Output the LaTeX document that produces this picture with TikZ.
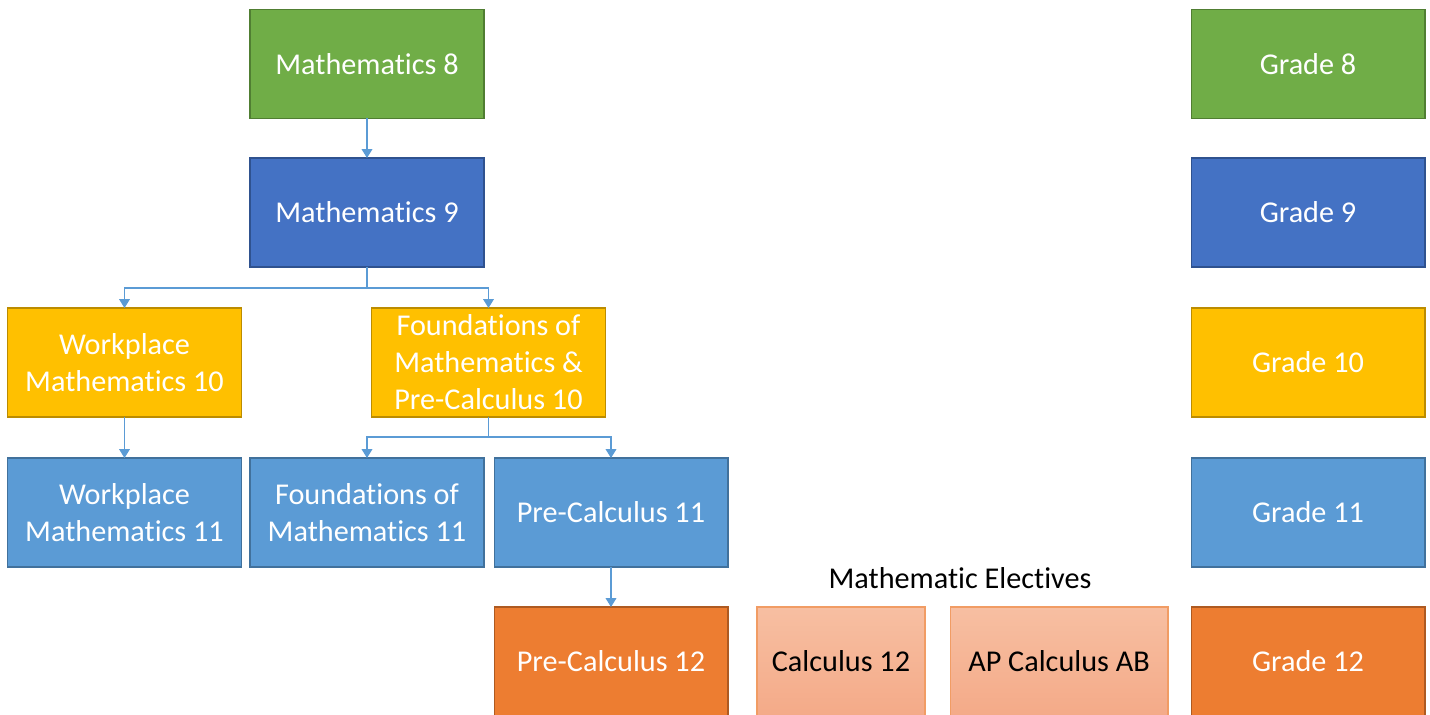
\documentclass[tikz,border=0pt]{standalone}
\usepackage{fontspec}
\setmainfont{Carlito}[Ligatures={NoCommon,NoContextual},RawFeature={-liga;-clig;-calt}]
\usepackage{xcolor}
\usetikzlibrary{arrows.meta}

\definecolor{grnfill}{HTML}{70AD47}\definecolor{grnline}{HTML}{507E32}
\definecolor{bluefill}{HTML}{4472C4}\definecolor{blueline}{HTML}{2F528F}
\definecolor{goldfill}{HTML}{FFC000}\definecolor{goldline}{HTML}{BC8C00}
\definecolor{skyfill}{HTML}{5B9BD5}\definecolor{skyline}{HTML}{41719C}
\definecolor{orgfill}{HTML}{ED7D31}\definecolor{orgline}{HTML}{AE5A21}
\definecolor{electop}{HTML}{F7BFA2}\definecolor{elecbot}{HTML}{F4AA88}
\definecolor{elecline}{HTML}{F19C64}
\definecolor{linkcol}{HTML}{5B9BD5}

\begin{document}
\begin{tikzpicture}[
  x=0.02cm,y=-0.02cm,
  font=\fontsize{17.2}{21}\selectfont,
  >={Triangle[width=6pt,length=5pt]},
  course/.style={draw,line width=0.6pt,minimum width=4.68cm,minimum height=2.18cm,align=center,inner sep=2pt,outer sep=0pt,text=white},
  g8/.style={course,fill=grnfill,draw=grnline},
  g9/.style={course,fill=bluefill,draw=blueline},
  g10/.style={course,fill=goldfill,draw=goldline},
  g11/.style={course,fill=skyfill,draw=skyline},
  g12/.style={course,fill=orgfill,draw=orgline},
  elective/.style={course,top color=electop,bottom color=elecbot,draw=elecline,text=black},
  link/.style={draw=linkcol,line width=0.75pt,->},
]
\useasboundingbox (0,0) rectangle (1430,715);
\clip (0,0) rectangle (1430,715);
% course pathway
\node[g8] (m8) at (367,64) {Mathematics 8};
\node[g9] (m9) at (367,212.5) {Mathematics 9};
\node[g10] (wm10) at (124.5,362.5) {Workplace\\Mathematics 10};
\node[g10] (fp10) at (488.5,362.5) {Foundations of\\Mathematics \&\\Pre-Calculus 10};
\node[g11] (wm11) at (124.5,512.5) {Workplace\\Mathematics 11};
\node[g11] (fm11) at (367,512.5) {Foundations of\\Mathematics 11};
\node[g11] (pc11) at (611,512.5) {Pre-Calculus 11};
\node[g12] (pc12) at (611,661.5) {Pre-Calculus 12};
% electives
\node (electitle) at (960,578) {Mathematic Electives};
\node[elective,minimum width=3.36cm] (calc12) at (841,661.5) {Calculus 12};
\node[elective,minimum width=4.36cm] (apcalc) at (1059,661.5) {AP Calculus AB};
% grade legend
\node[g8] (gr8) at (1308,64) {Grade 8};
\node[g9] (gr9) at (1308,212.5) {Grade 9};
\node[g10] (gr10) at (1308,362.5) {Grade 10};
\node[g11] (gr11) at (1308,512.5) {Grade 11};
\node[g12] (gr12) at (1308,661.5) {Grade 12};
% links
\draw[link] (m8) -- (m9);
\draw[link] (m9.south) -- ++(0,21) -| (wm10.north);
\draw[link] (m9.south) -- ++(0,21) -| (fp10.north);
\draw[link] (wm10) -- (wm11);
\draw[link] (fp10.south) -- ++(0,20) -| (fm11.north);
\draw[link] (fp10.south) -- ++(0,20) -| (pc11.north);
\draw[link] (pc11) -- (pc12);
\end{tikzpicture}
\end{document}
